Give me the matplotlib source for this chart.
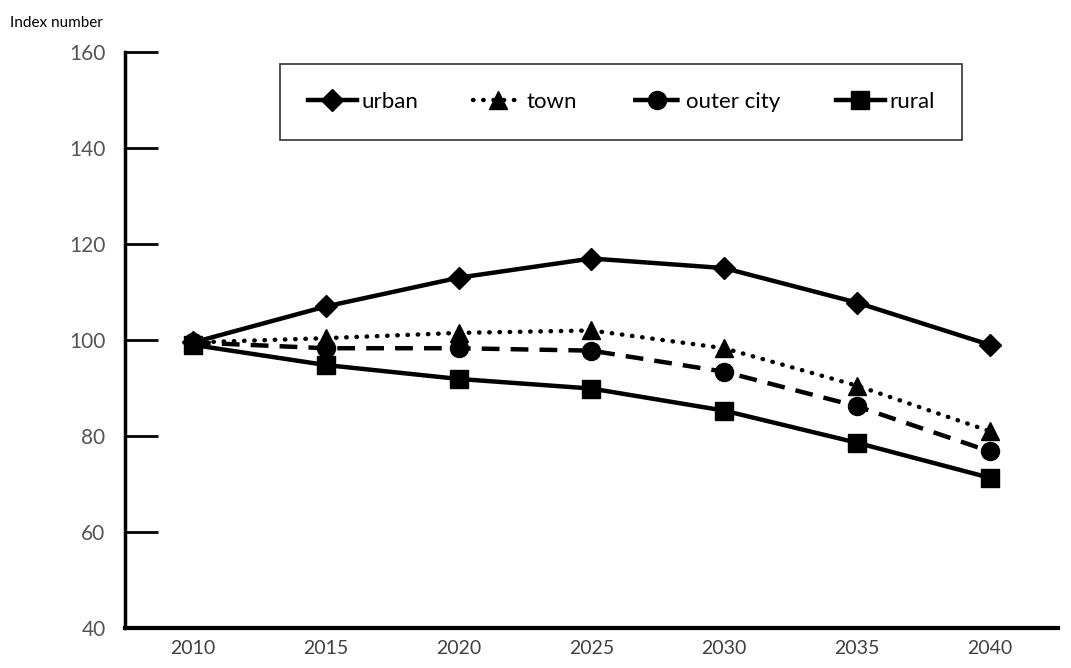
import matplotlib.pyplot as plt

years = [2010, 2015, 2020, 2025, 2030, 2035, 2040]
urban = [99.5, 107, 113, 117, 115, 107.8, 99]
town = [99.5, 100.4, 101.5, 102, 98.3, 90.5, 81]
outer_city = [99.5, 98.3, 98.3, 97.8, 93.4, 86.2, 76.8]
rural = [99, 94.8, 91.9, 89.9, 85.3, 78.6, 71.3]

plt.rcParams['font.family'] = ['Lato', 'DejaVu Sans']

fig = plt.figure(figsize=(10.71, 6.68), dpi=100)
ax = fig.add_axes([0.1167, 0.0599, 0.871, 0.862])

ax.plot(years, urban, color='black', lw=3.2, marker='D', ms=11, label='urban')
ax.plot(years, town, color='black', lw=3.2, ls=(0, (0.1, 2.2)), dash_capstyle='round',
        marker='^', ms=13, label='town')
ax.plot(years, outer_city, color='black', lw=3.2, ls=(0, (4, 2.5)), marker='o', ms=13,
        label='outer city')
ax.plot(years, rural, color='black', lw=3.2, marker='s', ms=13, label='rural')

ax.set_xlim(2007.44, 2042.56)
ax.set_ylim(40, 160)
ax.set_xticks(years)
ax.set_yticks(range(40, 161, 20))
ax.tick_params(axis='x', length=0, pad=9, labelsize=14, labelcolor='#404040')
ax.tick_params(axis='y', direction='in', length=24, width=2, pad=14,
               labelsize=15, labelcolor='#555555')
for s in ['top', 'right']:
    ax.spines[s].set_visible(False)
ax.spines['left'].set_linewidth(2.5)
ax.spines['bottom'].set_linewidth(3)

leg = fig.legend(loc='center', bbox_to_anchor=(0.2614, 0.787, 0.637, 0.12),
                 mode='expand', ncol=4, fontsize=16, frameon=True, fancybox=False,
                 edgecolor='black', handlelength=2.2, handletextpad=0.2,
                 borderpad=1.25, borderaxespad=0)
leg.get_frame().set_linewidth(1.2)

fig.text(0.009, 0.965, 'Index number', fontsize=11, va='center')

fig.savefig('out.png', dpi=100)
